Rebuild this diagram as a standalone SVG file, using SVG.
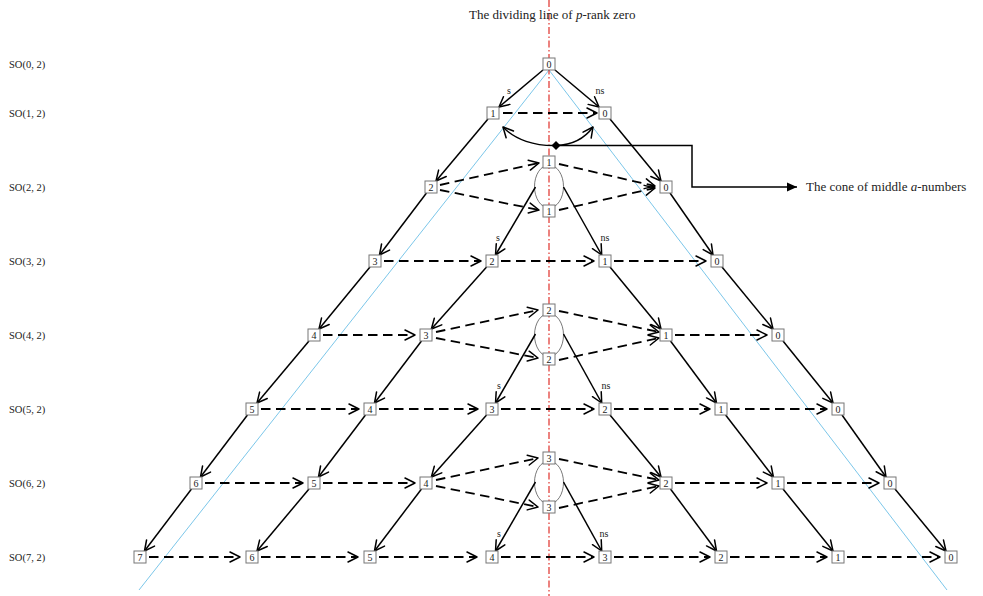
<svg xmlns="http://www.w3.org/2000/svg" width="983" height="596" viewBox="0 0 983 596">
<style>
text{font-family:"Liberation Serif","Times New Roman",serif;fill:#222}
.row{font-size:10.5px}
.lbl{font-size:10px;text-anchor:middle}
.nd rect{fill:#fff;stroke:#777;stroke-width:1}
.nd text{font-size:10px;text-anchor:middle}
.s{stroke:#000;stroke-width:1.5;fill:none;marker-end:url(#oa)}
.d{stroke:#000;stroke-width:1.8;stroke-dasharray:9.5 5.5;fill:none;marker-end:url(#oa)}
.ell{fill:none;stroke:#555;stroke-width:0.8}
.blue{stroke:#6cc0e6;stroke-width:0.9}
</style>
<defs>
<marker id="oa" markerUnits="userSpaceOnUse" markerWidth="13" markerHeight="13" refX="11" refY="5.5" orient="auto-start-reverse" overflow="visible">
<path d="M1,0.5 L11,5.5 L1,10.5" fill="none" stroke="#000" stroke-width="1.5" stroke-linecap="round" stroke-linejoin="round"/>
</marker>
<marker id="fa" markerUnits="userSpaceOnUse" markerWidth="12" markerHeight="10" refX="10" refY="4.5" orient="auto" overflow="visible">
<path d="M0,0 L10,4.5 L0,9 Z" fill="#000"/>
</marker>
</defs>
<rect width="983" height="596" fill="#fff"/>
<line class="blue" x1="549" y1="70" x2="139" y2="590"/>
<line class="blue" x1="549" y1="70" x2="947" y2="590"/>
<line x1="549" y1="0" x2="549" y2="596" stroke="#e0302a" stroke-width="1.2" stroke-dasharray="7 2.5 1.5 2.5"/>
<text x="469" y="19" font-size="13">The dividing line of <tspan font-style="italic">p</tspan>-rank zero</text>
<g id="row-labels" class="row">
<text x="9" y="68">SO(0, 2)</text>
<text x="9" y="117">SO(1, 2)</text>
<text x="9" y="191">SO(2, 2)</text>
<text x="9" y="265">SO(3, 2)</text>
<text x="9" y="339">SO(4, 2)</text>
<text x="9" y="413">SO(5, 2)</text>
<text x="9" y="487">SO(6, 2)</text>
<text x="9" y="561">SO(7, 2)</text>
</g>
<g id="ellipses">
<ellipse class="ell" cx="549" cy="186.5" rx="14.5" ry="21.5"/>
<ellipse class="ell" cx="549" cy="335" rx="14.5" ry="21.5"/>
<ellipse class="ell" cx="549" cy="482.5" rx="14.5" ry="21.5"/>
</g>
<g id="connectors">
<line class="s" x1="543" y1="70" x2="499" y2="107"/>
<line class="s" x1="488" y1="119" x2="436" y2="181"/>
<line class="s" x1="426.5" y1="193" x2="379.5" y2="255"/>
<line class="s" x1="370" y1="267" x2="319" y2="329"/>
<line class="s" x1="309" y1="341" x2="257" y2="403"/>
<line class="s" x1="247.5" y1="415" x2="200.5" y2="477"/>
<line class="s" x1="191.5" y1="489" x2="144.5" y2="551"/>
<line class="s" x1="486.6" y1="267" x2="431.4" y2="329"/>
<line class="s" x1="421.5" y1="341" x2="374.5" y2="403"/>
<line class="s" x1="365.5" y1="415" x2="318.5" y2="477"/>
<line class="s" x1="309" y1="489" x2="257" y2="551"/>
<line class="s" x1="486.6" y1="415" x2="431.4" y2="477"/>
<line class="s" x1="421.5" y1="489" x2="374.5" y2="551"/>
<line class="s" x1="535.5" y1="187" x2="495.5" y2="255"/>
<line class="s" x1="535.5" y1="334" x2="495.5" y2="403"/>
<line class="s" x1="535.5" y1="482" x2="495.5" y2="551"/>
<line class="s" x1="555" y1="70" x2="599" y2="107"/>
<line class="s" x1="610" y1="119" x2="661" y2="181"/>
<line class="s" x1="670" y1="193" x2="713" y2="255"/>
<line class="s" x1="722" y1="267" x2="773" y2="329"/>
<line class="s" x1="783" y1="341" x2="833" y2="403"/>
<line class="s" x1="842" y1="415" x2="886" y2="477"/>
<line class="s" x1="895" y1="489" x2="946" y2="551"/>
<line class="s" x1="610" y1="267" x2="661" y2="329"/>
<line class="s" x1="670.5" y1="341" x2="716.5" y2="403"/>
<line class="s" x1="725.6" y1="415" x2="773.4" y2="477"/>
<line class="s" x1="783" y1="489" x2="833" y2="551"/>
<line class="s" x1="610" y1="415" x2="661" y2="477"/>
<line class="s" x1="670.5" y1="489" x2="716.5" y2="551"/>
<line class="s" x1="563.5" y1="187" x2="601.7" y2="255"/>
<line class="s" x1="563.5" y1="334" x2="601.7" y2="403"/>
<line class="s" x1="563.5" y1="482" x2="601.7" y2="551"/>
<line class="d" x1="503" y1="113" x2="597" y2="113"/>
<line class="d" x1="384" y1="261" x2="481" y2="261"/>
<line class="d" x1="501" y1="261" x2="594" y2="261"/>
<line class="d" x1="614" y1="261" x2="706" y2="261"/>
<line class="d" x1="323" y1="335" x2="415" y2="335"/>
<line class="d" x1="675" y1="335" x2="767" y2="335"/>
<line class="d" x1="261" y1="409" x2="359" y2="409"/>
<line class="d" x1="379" y1="409" x2="478" y2="409"/>
<line class="d" x1="501" y1="409" x2="594" y2="409"/>
<line class="d" x1="614" y1="409" x2="710" y2="409"/>
<line class="d" x1="730" y1="409" x2="827" y2="409"/>
<line class="d" x1="205" y1="483" x2="303" y2="483"/>
<line class="d" x1="323" y1="483" x2="415" y2="483"/>
<line class="d" x1="675" y1="483" x2="767" y2="483"/>
<line class="d" x1="787" y1="483" x2="879" y2="483"/>
<line class="d" x1="149" y1="557" x2="240" y2="557"/>
<line class="d" x1="261" y1="557" x2="358" y2="557"/>
<line class="d" x1="379" y1="557" x2="477" y2="557"/>
<line class="d" x1="501" y1="557" x2="594" y2="557"/>
<line class="d" x1="614" y1="557" x2="710" y2="557"/>
<line class="d" x1="730" y1="557" x2="827" y2="557"/>
<line class="d" x1="847" y1="557" x2="940" y2="557"/>
<line class="d" x1="440" y1="185" x2="539" y2="163"/>
<line class="d" x1="440" y1="190" x2="539" y2="210"/>
<line class="d" x1="559" y1="164" x2="655" y2="186"/>
<line class="d" x1="559" y1="210" x2="655" y2="188"/>
<line class="d" x1="436" y1="332" x2="538" y2="310"/>
<line class="d" x1="436" y1="338" x2="538" y2="358"/>
<line class="d" x1="559" y1="311" x2="659" y2="332"/>
<line class="d" x1="559" y1="360" x2="659" y2="338"/>
<line class="d" x1="436" y1="480" x2="538" y2="458"/>
<line class="d" x1="436" y1="486" x2="538" y2="507"/>
<line class="d" x1="559" y1="459" x2="659" y2="480"/>
<line class="d" x1="559" y1="508" x2="659" y2="486"/>
<path d="M503,127 C515,140 535,146 556,145.5 C572,145 585,138 593,127" fill="none" stroke="#000" stroke-width="1.4" marker-start="url(#oa)" marker-end="url(#oa)"/>
<path d="M556,145.5 H692 V187 H797" fill="none" stroke="#000" stroke-width="1.5" marker-end="url(#fa)"/>
<path d="M556,141 L560.5,145.5 L556,150 L551.5,145.5 Z" fill="#000"/>
</g>
<text x="806" y="191" font-size="13">The cone of middle <tspan font-style="italic">a</tspan>-numbers</text>
<g id="edge-labels" class="lbl">
<text x="509" y="94">s</text>
<text x="600" y="94">ns</text>
<text x="498" y="241">s</text>
<text x="605" y="241">ns</text>
<text x="499" y="389">s</text>
<text x="606" y="389">ns</text>
<text x="499" y="537">s</text>
<text x="604" y="537">ns</text>
</g>
<g id="r0-0" class="nd"><rect x="543" y="58" width="12" height="12"/><text x="549" y="67.5">0</text></g>
<g id="r1-1" class="nd"><rect x="487" y="107" width="12" height="12"/><text x="493" y="116.5">1</text></g>
<g id="r1-0" class="nd"><rect x="599" y="107" width="12" height="12"/><text x="605" y="116.5">0</text></g>
<g id="r2-2" class="nd"><rect x="425" y="181" width="12" height="12"/><text x="431" y="190.5">2</text></g>
<g id="r2-1a" class="nd"><rect x="543" y="156" width="12" height="12"/><text x="549" y="165.5">1</text></g>
<g id="r2-1b" class="nd"><rect x="543" y="205" width="12" height="12"/><text x="549" y="214.5">1</text></g>
<g id="r2-0" class="nd"><rect x="660" y="181" width="12" height="12"/><text x="666" y="190.5">0</text></g>
<g id="r3-3" class="nd"><rect x="369" y="255" width="12" height="12"/><text x="375" y="264.5">3</text></g>
<g id="r3-2" class="nd"><rect x="486" y="255" width="12" height="12"/><text x="492" y="264.5">2</text></g>
<g id="r3-1" class="nd"><rect x="599" y="255" width="12" height="12"/><text x="605" y="264.5">1</text></g>
<g id="r3-0" class="nd"><rect x="711" y="255" width="12" height="12"/><text x="717" y="264.5">0</text></g>
<g id="r4-4" class="nd"><rect x="308" y="329" width="12" height="12"/><text x="314" y="338.5">4</text></g>
<g id="r4-3" class="nd"><rect x="420" y="329" width="12" height="12"/><text x="426" y="338.5">3</text></g>
<g id="r4-2a" class="nd"><rect x="543" y="304" width="12" height="12"/><text x="549" y="313.5">2</text></g>
<g id="r4-2b" class="nd"><rect x="543" y="353" width="12" height="12"/><text x="549" y="362.5">2</text></g>
<g id="r4-1" class="nd"><rect x="660" y="329" width="12" height="12"/><text x="666" y="338.5">1</text></g>
<g id="r4-0" class="nd"><rect x="772" y="329" width="12" height="12"/><text x="778" y="338.5">0</text></g>
<g id="r5-5" class="nd"><rect x="246" y="403" width="12" height="12"/><text x="252" y="412.5">5</text></g>
<g id="r5-4" class="nd"><rect x="364" y="403" width="12" height="12"/><text x="370" y="412.5">4</text></g>
<g id="r5-3" class="nd"><rect x="486" y="403" width="12" height="12"/><text x="492" y="412.5">3</text></g>
<g id="r5-2" class="nd"><rect x="599" y="403" width="12" height="12"/><text x="605" y="412.5">2</text></g>
<g id="r5-1" class="nd"><rect x="715" y="403" width="12" height="12"/><text x="721" y="412.5">1</text></g>
<g id="r5-0" class="nd"><rect x="832" y="403" width="12" height="12"/><text x="838" y="412.5">0</text></g>
<g id="r6-6" class="nd"><rect x="190" y="477" width="12" height="12"/><text x="196" y="486.5">6</text></g>
<g id="r6-5" class="nd"><rect x="308" y="477" width="12" height="12"/><text x="314" y="486.5">5</text></g>
<g id="r6-4" class="nd"><rect x="420" y="477" width="12" height="12"/><text x="426" y="486.5">4</text></g>
<g id="r6-3a" class="nd"><rect x="543" y="452" width="12" height="12"/><text x="549" y="461.5">3</text></g>
<g id="r6-3b" class="nd"><rect x="543" y="501" width="12" height="12"/><text x="549" y="510.5">3</text></g>
<g id="r6-2" class="nd"><rect x="660" y="477" width="12" height="12"/><text x="666" y="486.5">2</text></g>
<g id="r6-1" class="nd"><rect x="772" y="477" width="12" height="12"/><text x="778" y="486.5">1</text></g>
<g id="r6-0" class="nd"><rect x="884" y="477" width="12" height="12"/><text x="890" y="486.5">0</text></g>
<g id="r7-7" class="nd"><rect x="134" y="551" width="12" height="12"/><text x="140" y="560.5">7</text></g>
<g id="r7-6" class="nd"><rect x="246" y="551" width="12" height="12"/><text x="252" y="560.5">6</text></g>
<g id="r7-5" class="nd"><rect x="364" y="551" width="12" height="12"/><text x="370" y="560.5">5</text></g>
<g id="r7-4" class="nd"><rect x="486" y="551" width="12" height="12"/><text x="492" y="560.5">4</text></g>
<g id="r7-3" class="nd"><rect x="599" y="551" width="12" height="12"/><text x="605" y="560.5">3</text></g>
<g id="r7-2" class="nd"><rect x="715" y="551" width="12" height="12"/><text x="721" y="560.5">2</text></g>
<g id="r7-1" class="nd"><rect x="832" y="551" width="12" height="12"/><text x="838" y="560.5">1</text></g>
<g id="r7-0" class="nd"><rect x="945" y="551" width="12" height="12"/><text x="951" y="560.5">0</text></g>
</svg>
